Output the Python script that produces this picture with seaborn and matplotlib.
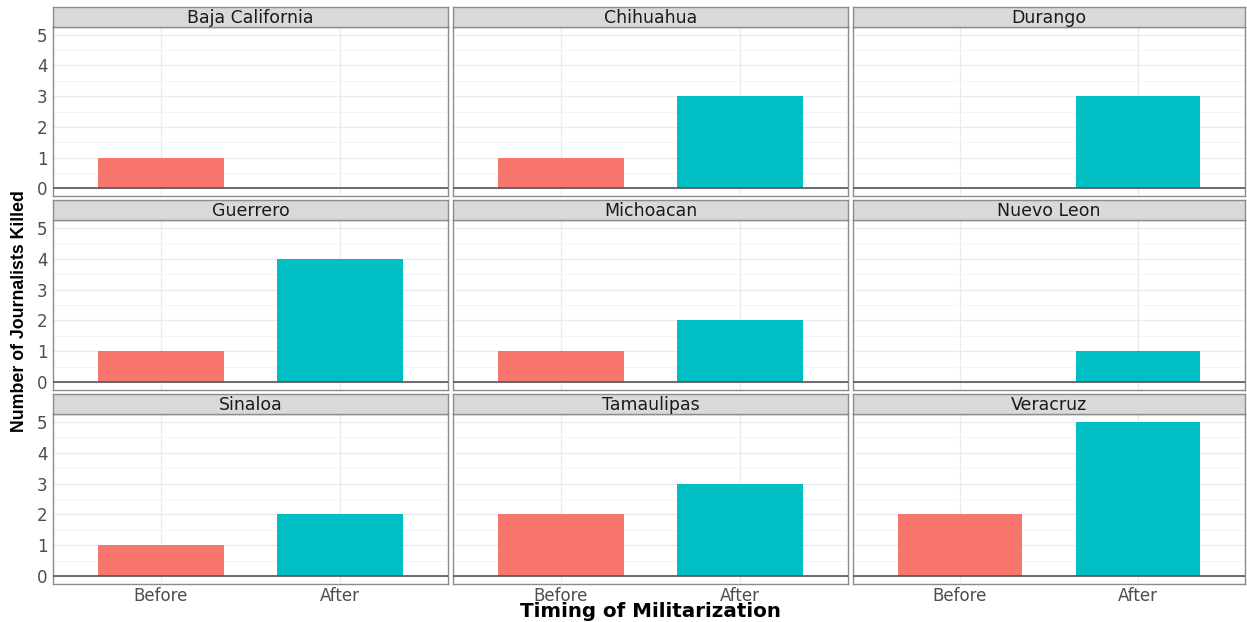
import matplotlib
matplotlib.use("Agg")
import matplotlib.pyplot as plt
import seaborn as sns
import pandas as pd

states = ["Baja California", "Chihuahua", "Durango",
          "Guerrero", "Michoacan", "Nuevo Leon",
          "Sinaloa", "Tamaulipas", "Veracruz"]
timing = ["Before", "After"]
killed_before = [1, 1, 0, 1, 1, 0, 1, 2, 2]
killed_after = [0, 3, 3, 4, 2, 1, 2, 3, 5]
y_ticks = [0, 1, 2, 3, 4, 5]

palette = {"Before": "#F8766D", "After": "#00BFC4"}

sns.set_theme(style="white")
plt.rcParams["font.family"] = ["DejaVu Sans"]

df = pd.DataFrame({
    "state": states * 2,
    "timing": ["Before"] * len(states) + ["After"] * len(states),
    "killed": killed_before + killed_after,
})

W, H = 1247, 622
fig = plt.figure(figsize=(W / 100, H / 100), dpi=100)

col_x = [(53, 448), (453, 848), (853, 1245)]
row_y = [(7, 27, 196), (200, 220, 390), (394, 414, 584)]

def fx(px):
    return px / W

def fy(py):
    return 1 - py / H

for i, state in enumerate(states):
    r, c = divmod(i, 3)
    x0, x1 = col_x[c]
    s0, p0, p1 = row_y[r]
    ax = fig.add_axes([fx(x0), fy(p1), fx(x1) - fx(x0), fy(p0) - fy(p1)])
    sub = df[df["state"] == state]
    sns.barplot(data=sub, x="timing", y="killed", hue="timing", order=timing,
                hue_order=timing, palette=palette, width=0.7, dodge=False,
                legend=False, ax=ax, saturation=1, linewidth=0)
    ax.set_xlim(-0.6, 1.6)
    ax.set_ylim(-0.25, 5.25)
    ax.set_yticks(y_ticks)
    ax.set_yticks([0.5, 1.5, 2.5, 3.5, 4.5], minor=True)
    ax.set_axisbelow(True)
    ax.grid(which="major", color="#EBEBEB", linewidth=1.0)
    ax.grid(which="minor", axis="y", color="#F4F4F4", linewidth=0.6)
    ax.axhline(0, color="#555555", linewidth=1.2, zorder=3)
    for sp in ax.spines.values():
        sp.set_color("#8C8C8C")
        sp.set_linewidth(1.0)
    ax.set_xlabel("")
    ax.set_ylabel("")
    ax.tick_params(axis="y", which="major", length=2.5, color="#4D4D4D",
                   labelcolor="#4D4D4D", labelsize=12, pad=1.5, width=0.8)
    ax.tick_params(axis="x", which="major", length=2, color="#4D4D4D",
                   labelcolor="#4D4D4D", labelsize=12, pad=0, width=0.8)
    ax.tick_params(axis="both", which="minor", length=0)
    if c != 0:
        ax.tick_params(axis="y", labelleft=False, length=0)
    if r != 2:
        ax.tick_params(axis="x", labelbottom=False, length=0)

    # facet strip
    sax = fig.add_axes([fx(x0), fy(p0), fx(x1) - fx(x0), fy(s0) - fy(p0)])
    sax.set_facecolor("#D9D9D9")
    sax.set_xticks([])
    sax.set_yticks([])
    for sp in sax.spines.values():
        sp.set_color("#8C8C8C")
        sp.set_linewidth(1.0)
    sax.text(0.5, 0.2, state, ha="center", va="baseline", fontsize=12.5,
             color="#1A1A1A", transform=sax.transAxes)

fig.text(fx(650), fy(617), "Timing of Militarization", ha="center", va="baseline",
         fontsize=14.3, fontweight="bold", color="black")
fig.text(fx(20), fy(311), "Number of Journalists Killed", ha="center", va="center",
         rotation=90, fontsize=12.8, fontweight="bold", color="black",
         family=["Liberation Sans", "DejaVu Sans"])

fig.savefig("out.png", dpi=100, facecolor="white")
